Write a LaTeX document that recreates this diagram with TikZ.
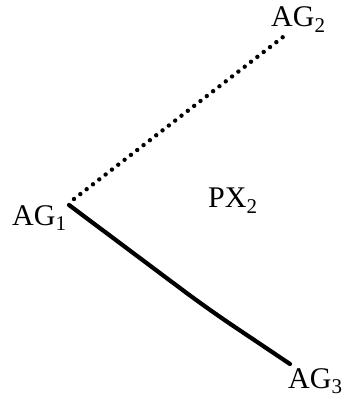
\documentclass[tikz,border=0pt]{standalone}
\usepackage{fontspec}
\setmainfont{Liberation Serif}
\begin{document}
\begin{tikzpicture}[x=1pt,y=1pt,
  lbl/.style={font=\fontsize{30}{34}\selectfont, inner sep=0pt, anchor=base west},
  dotline/.style={line width=4.4pt, line cap=round, dash pattern=on 0pt off 8pt},
  solidline/.style={line width=4.2pt, line cap=round, line join=round, rounded corners=30pt}]
\useasboundingbox (0,0) rectangle (344,400);
\node[lbl] (ag1) at (12,175) {AG\textsubscript{1}};
\node[lbl] (ag2) at (271,373) {AG\textsubscript{2}};
\node[lbl] (ag3) at (288,12) {AG\textsubscript{3}};
\node[lbl] (px2) at (208,192) {PX\textsubscript{2}};
\coordinate (s1) at (69,195);
\coordinate (d1) at (74,201);
\coordinate (d2) at (283,363);
\coordinate (bend) at (208,91);
\coordinate (s3) at (290,36);
\draw[dotline] (d1) -- (d2);
\draw[solidline] (s1) -- (bend) -- (s3);
\end{tikzpicture}
\end{document}
